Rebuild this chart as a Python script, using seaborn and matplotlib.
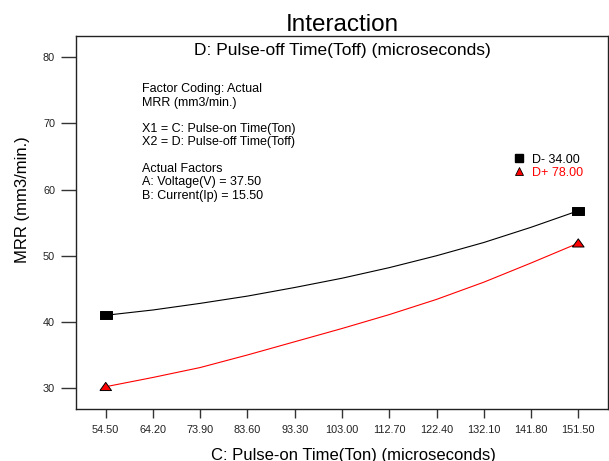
import matplotlib
matplotlib.use("Agg")
import matplotlib.pyplot as plt
from matplotlib.lines import Line2D
import numpy as np
import pandas as pd
import seaborn as sns

# Pulse-on time levels (x axis) and predicted MRR for the two Toff levels
ton_levels = [54.5, 64.2, 73.9, 83.6, 93.3, 103.0, 112.7, 122.4, 132.1, 141.8, 151.5]
mrr_d_minus = [41.0, 41.8, 42.8, 43.9, 45.2, 46.6, 48.2, 50.0, 52.0, 54.3, 56.8]
mrr_d_plus = [30.2, 31.6, 33.1, 35.0, 37.0, 39.0, 41.1, 43.4, 46.0, 48.9, 51.9]
series_labels = ["D- 34.00", "D+ 78.00"]
x_tick_labels = ["54.50", "64.20", "73.90", "83.60", "93.30", "103.00",
                 "112.70", "122.40", "132.10", "141.80", "151.50"]
y_ticks = [30, 40, 50, 60, 70, 80]

info_lines = [
    "Factor Coding: Actual",
    "MRR (mm3/min.)",
    "",
    "X1 = C: Pulse-on Time(Ton)",
    "X2 = D: Pulse-off Time(Toff)",
    "",
    "Actual Factors",
    "A: Voltage(V) = 37.50",
    "B: Current(Ip) = 15.50",
]

sns.set_style("white")
plt.rcParams["font.family"] = ["Liberation Sans", "DejaVu Sans"]

W, H = 609, 461
fig = plt.figure(figsize=(W / 100, H / 100), dpi=100)
L, R, T, B = 76, 608, 36, 409
ax = fig.add_axes([L / W, 1 - B / H, (R - L) / W, (B - T) / H])

df = pd.DataFrame({
    "ton": ton_levels * 2,
    "mrr": mrr_d_minus + mrr_d_plus,
    "series": [series_labels[0]] * len(ton_levels) + [series_labels[1]] * len(ton_levels),
})
palette = {series_labels[0]: "black", series_labels[1]: "#ff0000"}

sns.lineplot(data=df, x="ton", y="mrr", hue="series", palette=palette,
             linewidth=0.8, legend=False, ax=ax, sort=True)

# end-point markers: flat box for D-, flat triangle for D+
rect_marker = [(-0.5, -0.36), (0.5, -0.36), (0.5, 0.36), (-0.5, 0.36), (-0.5, -0.36)]
tri_marker = [(-0.5, -0.33), (0.5, -0.33), (0.0, 0.37), (-0.5, -0.33)]
ends = df[df["ton"].isin([ton_levels[0], ton_levels[-1]])]
sns.scatterplot(data=ends, x="ton", y="mrr", hue="series", style="series",
                palette=palette,
                markers={series_labels[0]: rect_marker, series_labels[1]: tri_marker},
                s=70, edgecolor="black", linewidth=0.7, legend=False, ax=ax, zorder=5)

ax.set_xlim(48.4, 157.6)
ax.set_ylim(26.83, 83.22)
ax.set_xticks(ton_levels)
ax.set_xticklabels(x_tick_labels)
ax.set_yticks(y_ticks)
ax.tick_params(axis="x", direction="out", length=6.5, width=1.0, color="#333333",
               labelsize=7.8, pad=5, bottom=True)
ax.tick_params(axis="y", direction="out", length=10.8, width=1.0, color="#333333",
               labelsize=7.8, pad=4.3, left=True)
for lab in ax.get_xticklabels() + ax.get_yticklabels():
    lab.set_color("#222222")
for sp in ax.spines.values():
    sp.set_visible(True)
    sp.set_color("#222222")
    sp.set_linewidth(1.0)

ax.set_xlabel("C: Pulse-on Time(Ton) (microseconds)", fontsize=12, color="black")
ax.xaxis.label.set_va("center")
ax.xaxis.set_label_coords((353 - L) / (R - L), (B - 455) / (B - T))
ax.set_ylabel("MRR (mm3/min.)", fontsize=12, color="black")
ax.yaxis.label.set_va("center")
ax.yaxis.set_label_coords((23 - L) / (R - L), (B - 200) / (B - T))

ax.set_title("Interaction", fontsize=17.5, pad=3.8, color="black")
ax.text(0.5, (B - 55) / (B - T), "D: Pulse-off Time(Toff) (microseconds)",
        transform=ax.transAxes, ha="center", va="baseline", fontsize=12.5, color="black")

# model summary block
y0 = 92.3
for i, line in enumerate(info_lines):
    if line:
        fig.text(142 / W, 1 - (y0 + 13.3 * i) / H, line, ha="left", va="baseline",
                 fontsize=9, color="black")

handles = [
    Line2D([], [], linestyle="none", marker="s", markersize=5.2,
           markerfacecolor="black", markeredgecolor="black"),
    Line2D([], [], linestyle="none", marker="^", markersize=6,
           markerfacecolor="#ff0000", markeredgecolor="black", markeredgewidth=0.6),
]
ax.legend(handles, series_labels, loc="upper left",
          bbox_to_anchor=(515.5 / W, 1 - 153.5 / H), bbox_transform=fig.transFigure,
          frameon=False, fontsize=9, handlelength=0.6, handletextpad=0.72,
          labelspacing=0.1, borderpad=0, borderaxespad=0,
          labelcolor=["black", "#ff0000"])

fig.savefig("out.png", dpi=100)
